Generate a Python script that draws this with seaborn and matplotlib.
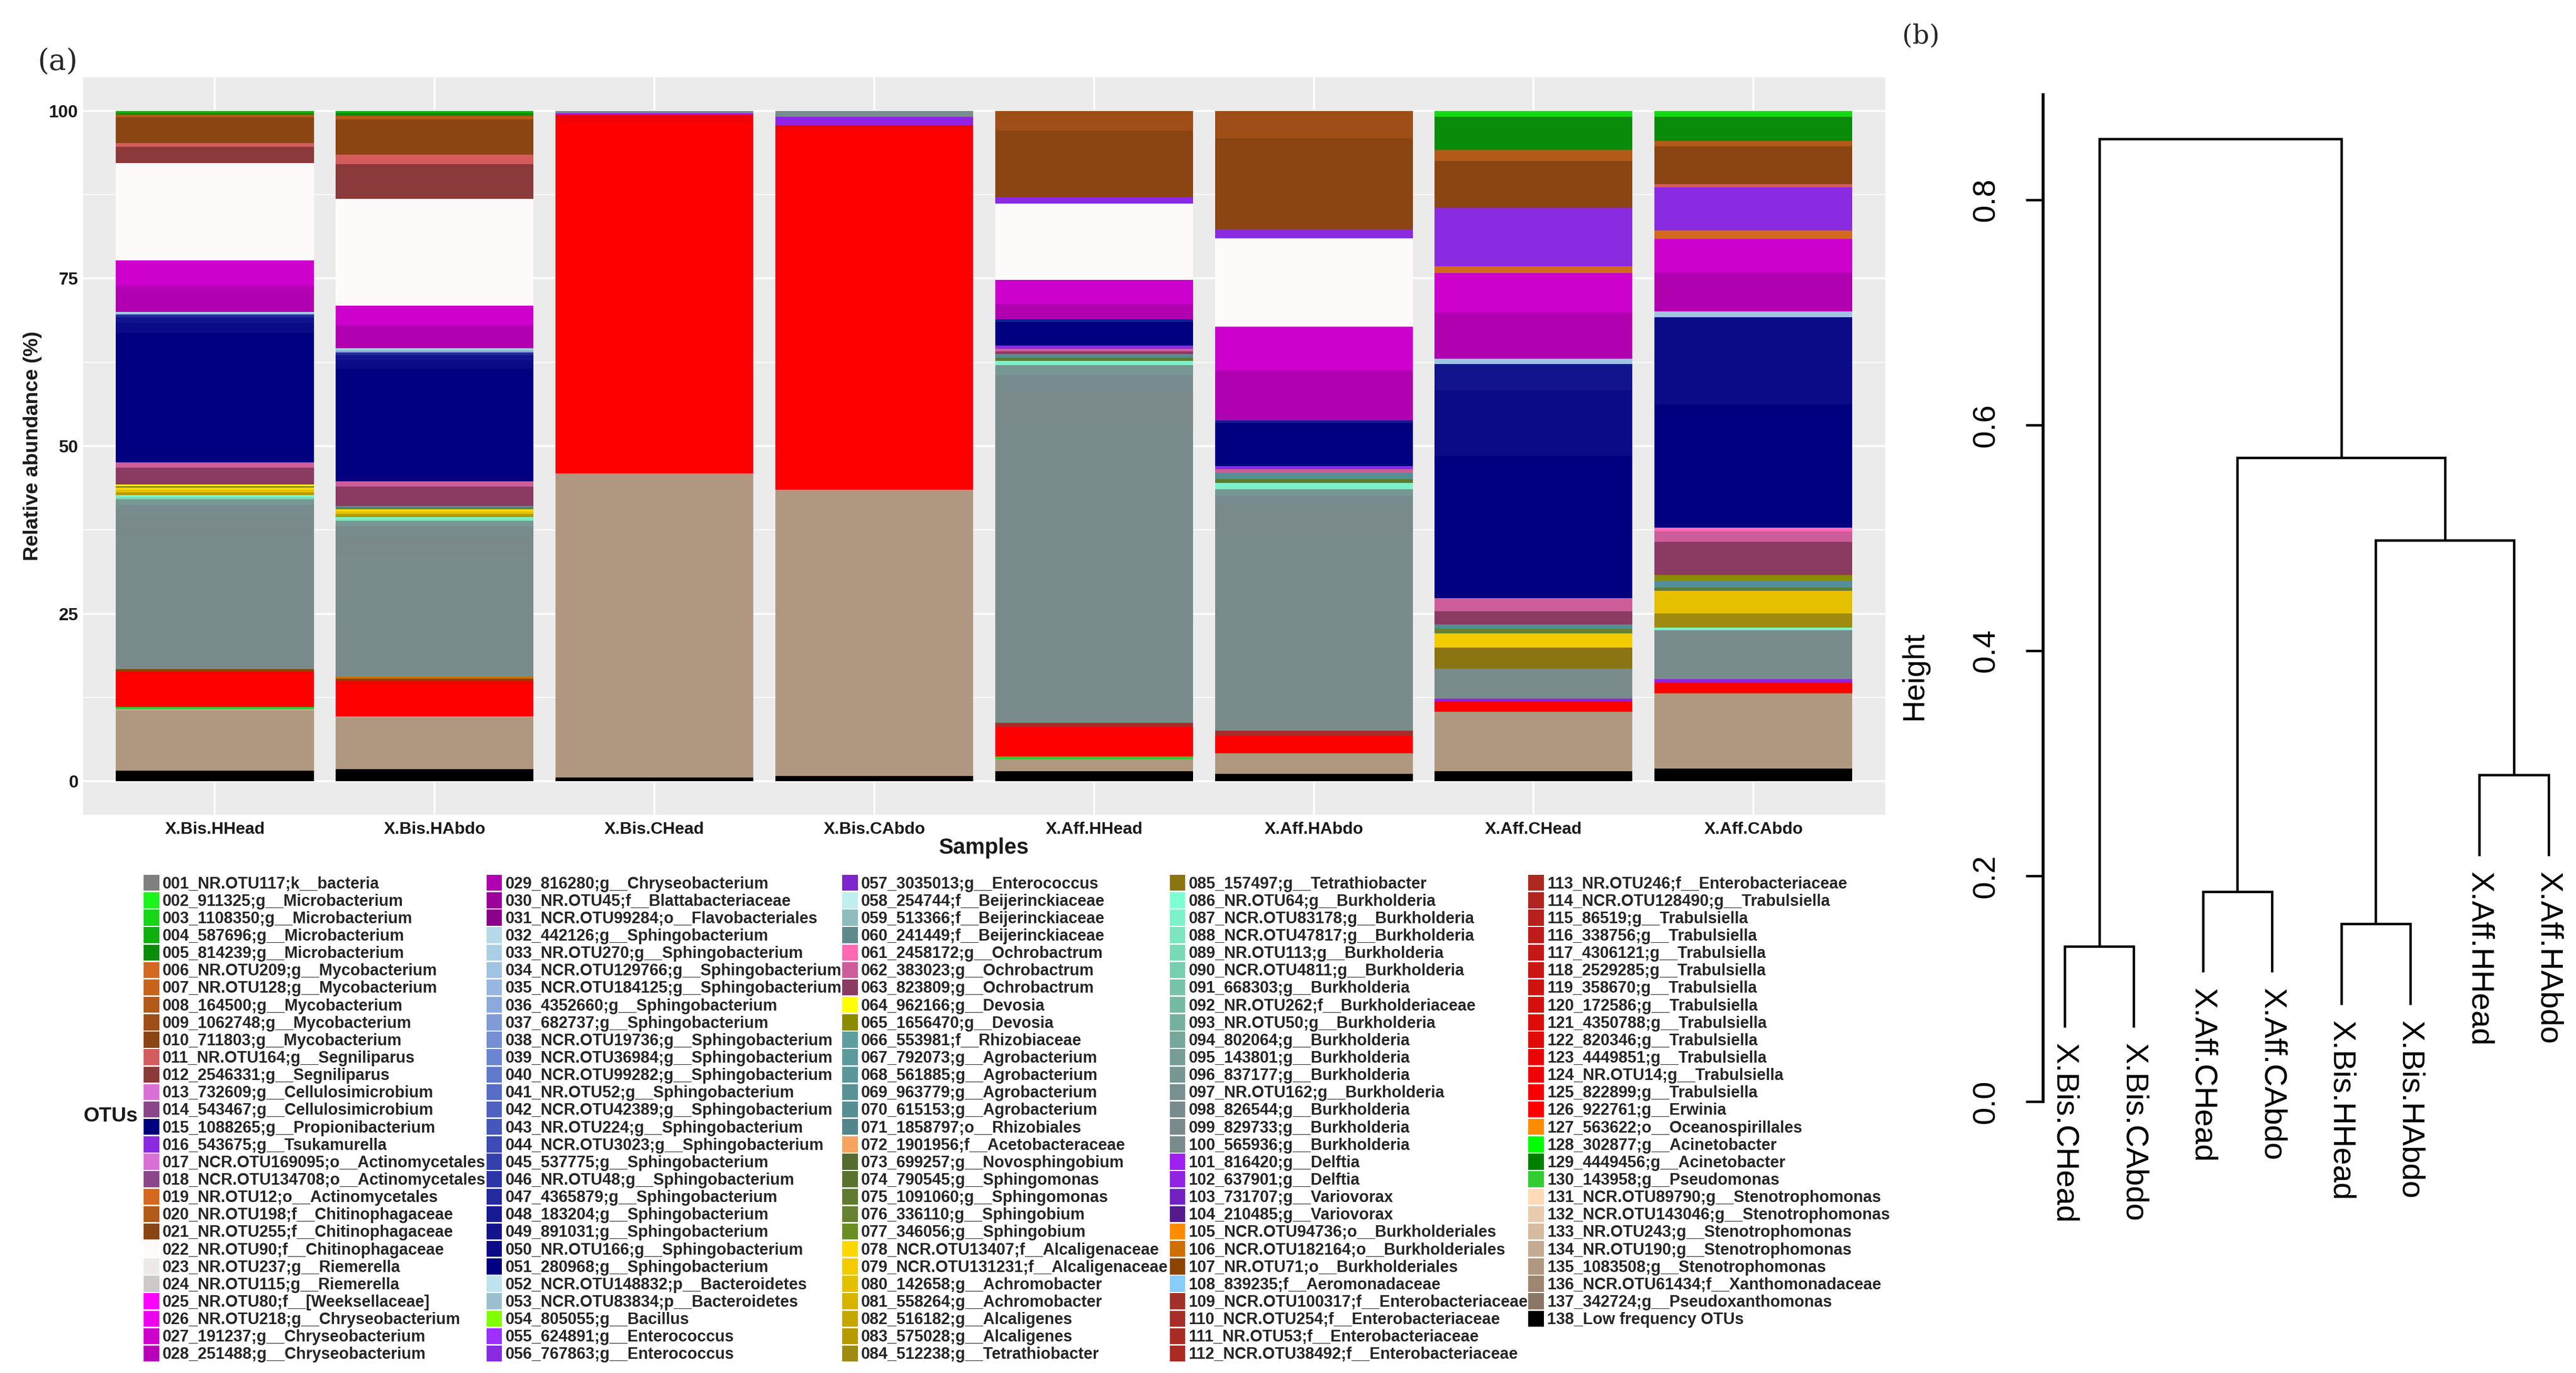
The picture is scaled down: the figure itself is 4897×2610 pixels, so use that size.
import numpy as np
import pandas as pd
import matplotlib
matplotlib.use("Agg")
import matplotlib.pyplot as plt
from matplotlib.patches import Patch
import seaborn as sns

# ---------------- data ----------------
samples = ['X.Bis.HHead', 'X.Bis.HAbdo', 'X.Bis.CHead', 'X.Bis.CAbdo',
           'X.Aff.HHead', 'X.Aff.HAbdo', 'X.Aff.CHead', 'X.Aff.CAbdo']

otu_labels = [
    '001_NR.OTU117;k__bacteria', '002_911325;g__Microbacterium', '003_1108350;g__Microbacterium',
    '004_587696;g__Microbacterium', '005_814239;g__Microbacterium', '006_NR.OTU209;g__Mycobacterium',
    '007_NR.OTU128;g__Mycobacterium', '008_164500;g__Mycobacterium', '009_1062748;g__Mycobacterium',
    '010_711803;g__Mycobacterium', '011_NR.OTU164;g__Segniliparus', '012_2546331;g__Segniliparus',
    '013_732609;g__Cellulosimicrobium', '014_543467;g__Cellulosimicrobium', '015_1088265;g__Propionibacterium',
    '016_543675;g__Tsukamurella', '017_NCR.OTU169095;o__Actinomycetales', '018_NCR.OTU134708;o__Actinomycetales',
    '019_NR.OTU12;o__Actinomycetales', '020_NR.OTU198;f__Chitinophagaceae', '021_NR.OTU255;f__Chitinophagaceae',
    '022_NR.OTU90;f__Chitinophagaceae', '023_NR.OTU237;g__Riemerella', '024_NR.OTU115;g__Riemerella',
    '025_NR.OTU80;f__[Weeksellaceae]', '026_NR.OTU218;g__Chryseobacterium', '027_191237;g__Chryseobacterium',
    '028_251488;g__Chryseobacterium',
    '029_816280;g__Chryseobacterium', '030_NR.OTU45;f__Blattabacteriaceae', '031_NCR.OTU99284;o__Flavobacteriales',
    '032_442126;g__Sphingobacterium', '033_NR.OTU270;g__Sphingobacterium', '034_NCR.OTU129766;g__Sphingobacterium',
    '035_NCR.OTU184125;g__Sphingobacterium', '036_4352660;g__Sphingobacterium', '037_682737;g__Sphingobacterium',
    '038_NCR.OTU19736;g__Sphingobacterium', '039_NCR.OTU36984;g__Sphingobacterium', '040_NCR.OTU99282;g__Sphingobacterium',
    '041_NR.OTU52;g__Sphingobacterium', '042_NCR.OTU42389;g__Sphingobacterium', '043_NR.OTU224;g__Sphingobacterium',
    '044_NCR.OTU3023;g__Sphingobacterium', '045_537775;g__Sphingobacterium', '046_NR.OTU48;g__Sphingobacterium',
    '047_4365879;g__Sphingobacterium', '048_183204;g__Sphingobacterium', '049_891031;g__Sphingobacterium',
    '050_NR.OTU166;g__Sphingobacterium', '051_280968;g__Sphingobacterium', '052_NCR.OTU148832;p__Bacteroidetes',
    '053_NCR.OTU83834;p__Bacteroidetes', '054_805055;g__Bacillus', '055_624891;g__Enterococcus',
    '056_767863;g__Enterococcus',
    '057_3035013;g__Enterococcus', '058_254744;f__Beijerinckiaceae', '059_513366;f__Beijerinckiaceae',
    '060_241449;f__Beijerinckiaceae', '061_2458172;g__Ochrobactrum', '062_383023;g__Ochrobactrum',
    '063_823809;g__Ochrobactrum', '064_962166;g__Devosia', '065_1656470;g__Devosia',
    '066_553981;f__Rhizobiaceae', '067_792073;g__Agrobacterium', '068_561885;g__Agrobacterium',
    '069_963779;g__Agrobacterium', '070_615153;g__Agrobacterium', '071_1858797;o__Rhizobiales',
    '072_1901956;f__Acetobacteraceae', '073_699257;g__Novosphingobium', '074_790545;g__Sphingomonas',
    '075_1091060;g__Sphingomonas', '076_336110;g__Sphingobium', '077_346056;g__Sphingobium',
    '078_NCR.OTU13407;f__Alcaligenaceae', '079_NCR.OTU131231;f__Alcaligenaceae', '080_142658;g__Achromobacter',
    '081_558264;g__Achromobacter', '082_516182;g__Alcaligenes', '083_575028;g__Alcaligenes',
    '084_512238;g__Tetrathiobacter',
    '085_157497;g__Tetrathiobacter', '086_NR.OTU64;g__Burkholderia', '087_NCR.OTU83178;g__Burkholderia',
    '088_NCR.OTU47817;g__Burkholderia', '089_NR.OTU113;g__Burkholderia', '090_NCR.OTU4811;g__Burkholderia',
    '091_668303;g__Burkholderia', '092_NR.OTU262;f__Burkholderiaceae', '093_NR.OTU50;g__Burkholderia',
    '094_802064;g__Burkholderia', '095_143801;g__Burkholderia', '096_837177;g__Burkholderia',
    '097_NR.OTU162;g__Burkholderia', '098_826544;g__Burkholderia', '099_829733;g__Burkholderia',
    '100_565936;g__Burkholderia', '101_816420;g__Delftia', '102_637901;g__Delftia',
    '103_731707;g__Variovorax', '104_210485;g__Variovorax', '105_NCR.OTU94736;o__Burkholderiales',
    '106_NCR.OTU182164;o__Burkholderiales', '107_NR.OTU71;o__Burkholderiales', '108_839235;f__Aeromonadaceae',
    '109_NCR.OTU100317;f__Enterobacteriaceae', '110_NCR.OTU254;f__Enterobacteriaceae', '111_NR.OTU53;f__Enterobacteriaceae',
    '112_NCR.OTU38492;f__Enterobacteriaceae',
    '113_NR.OTU246;f__Enterobacteriaceae', '114_NCR.OTU128490;g__Trabulsiella', '115_86519;g__Trabulsiella',
    '116_338756;g__Trabulsiella', '117_4306121;g__Trabulsiella', '118_2529285;g__Trabulsiella',
    '119_358670;g__Trabulsiella', '120_172586;g__Trabulsiella', '121_4350788;g__Trabulsiella',
    '122_820346;g__Trabulsiella', '123_4449851;g__Trabulsiella', '124_NR.OTU14;g__Trabulsiella',
    '125_822899;g__Trabulsiella', '126_922761;g__Erwinia', '127_563622;o__Oceanospirillales',
    '128_302877;g__Acinetobacter', '129_4449456;g__Acinetobacter', '130_143958;g__Pseudomonas',
    '131_NCR.OTU89790;g__Stenotrophomonas', '132_NCR.OTU143046;g__Stenotrophomonas', '133_NR.OTU243;g__Stenotrophomonas',
    '134_NR.OTU190;g__Stenotrophomonas', '135_1083508;g__Stenotrophomonas', '136_NCR.OTU61434;f__Xanthomonadaceae',
    '137_342724;g__Pseudoxanthomonas', '138_Low frequency OTUs',
]

otu_colors = [
    '#7F7F7F',
    '#1CF51C', '#16D616', '#10AF10', '#0A8B0A',
    '#D2691E', '#C8631C', '#B45A19', '#9E4E16', '#8B4513',
    '#D55C5C', '#8B3A3A',
    '#DA70D6', '#8B4789',
    '#000080', '#8A2BE2',
    '#DA70D6', '#8B4789',
    '#D2691E', '#B45A19', '#8B4513',
    '#FFFAFA', '#EEE9E9', '#CDC9C9',
    '#FF00FF', '#EE00EE', '#CD00CD', '#B900B9', '#B000B0', '#9C009C', '#8B008B',
    '#B4D9E8', '#A9CFE5', '#9FC3E3', '#96B8E0', '#8BAADB', '#7F9CD6', '#7490D2', '#6A86CF', '#607ACB', '#576EC6',
    '#4E62C1', '#4557BB', '#3C4BB5', '#3340AE', '#2B35A6', '#232A9E', '#171B92', '#11148C', '#0B0B88', '#000080',
    '#BFE3EC', '#9AC0CD',
    '#7FFF00', '#9B30FF', '#8A2BE2', '#7D26CD',
    '#BFEFEF', '#8FBCBC', '#5F8A8B',
    '#FF69B4', '#CD5C9A', '#8B3A62',
    '#FFFF00', '#8B8B00',
    '#5F9EA0', '#5D9A9D', '#5A969A', '#589297', '#558E93', '#53868B',
    '#F4A460',
    '#556B2F', '#5A7230', '#607A31', '#668232', '#6B8E23',
    '#FFD700', '#F2CB00', '#E5C000', '#D6B400', '#C6A700', '#B69A00', '#A08A10', '#8B7512',
    '#7FFFD4', '#7DF2CA', '#7BE6C0', '#79DAB8', '#78CFB0', '#77C4A9', '#76BAA3', '#76B09E', '#76A79A',
    '#769E96', '#779792', '#78918F', '#798C8D', '#7A8A8B', '#7A8B8B',
    '#A020F0', '#9124E0', '#7222C0', '#551A8B',
    '#FF8C00', '#CD7000', '#8B4500',
    '#87CEFA',
    '#A33028', '#A52E28', '#A82C26', '#AB2A24', '#AE2822', '#B22420', '#B8201D', '#BE1C1A', '#C41817',
    '#CA1514', '#D01211', '#D60F0E', '#DC0C0B', '#E20909', '#E80606', '#EE0404', '#F50202', '#FF0000',
    '#FF8C00',
    '#00FF00', '#008000', '#32CD32',
    '#FFDAB9', '#EACBAE', '#D6BBA0', '#C4AA92', '#B09880', '#9E8671', '#8B7765',
    '#000000',
]

# abundance per sample: OTU number -> relative abundance (%)
bis_hhead = {4: 0.3, 5: 0.3, 8: 0.4, 10: 3.8, 11: 0.6, 12: 2.4, 22: 14.6, 27: 3.7, 28: 0.5, 29: 3.5,
             33: 0.2, 36: 0.2, 47: 0.4, 49: 0.8, 50: 1.5, 51: 19.4, 62: 0.8, 63: 2.5, 64: 0.2, 65: 0.3,
             78: 0.3, 80: 0.4, 83: 0.4, 87: 0.3, 89: 0.3, 96: 0.9, 98: 1.5, 99: 3.0, 100: 20.0, 107: 0.4,
             125: 0.5, 126: 4.8, 130: 0.3, 134: 0.2, 135: 9.0, 138: 1.6}
bis_habdo = {4: 0.35, 5: 0.35, 8: 0.6, 10: 5.2, 11: 1.4, 12: 5.2, 22: 15.9, 27: 3.0, 29: 3.4, 33: 0.3,
             36: 0.3, 47: 0.4, 49: 0.8, 50: 1.2, 51: 16.8, 62: 0.75, 63: 2.9, 70: 0.25, 75: 0.25, 78: 0.35,
             80: 0.4, 83: 0.4, 87: 0.3, 88: 0.3, 96: 0.8, 98: 1.2, 99: 3.0, 100: 18.2, 106: 0.3, 107: 0.3,
             124: 0.5, 126: 4.85, 134: 0.15, 135: 7.7, 138: 1.8}
bis_chead = {100: 0.3, 101: 0.3, 124: 1.0, 126: 52.4, 135: 45.3, 138: 0.6}
bis_cabdo = {100: 0.9, 102: 1.25, 124: 0.7, 126: 53.6, 135: 42.6, 138: 0.8}
aff_hhead = {9: 2.9, 10: 10.0, 16: 0.9, 22: 11.4, 27: 3.6, 29: 2.3, 48: 0.4, 51: 3.5, 56: 0.5, 62: 0.4,
             63: 0.4, 70: 0.5, 75: 0.5, 87: 0.6, 96: 1.5, 98: 2.5, 99: 5.4, 100: 44.0, 110: 0.6, 126: 4.4,
             130: 0.4, 135: 1.8, 138: 1.5}
aff_habdo = {9: 4.1, 10: 13.6, 16: 1.3, 22: 13.2, 27: 6.5, 29: 7.5, 48: 0.4, 51: 6.4, 56: 0.5, 62: 0.5,
             70: 1.0, 75: 0.5, 87: 1.0, 96: 1.0, 98: 1.5, 99: 4.0, 100: 29.5, 110: 0.8, 126: 2.55, 135: 3.1,
             138: 1.1}
aff_chead = {3: 0.9, 5: 4.9, 8: 1.7, 10: 7.0, 16: 8.7, 19: 1.0, 27: 5.9, 29: 6.9, 34: 0.8, 49: 3.9,
             50: 9.7, 51: 21.3, 62: 1.95, 63: 1.95, 70: 0.7, 76: 0.7, 79: 2.1, 85: 3.1, 100: 4.5, 102: 0.4,
             126: 1.55, 135: 8.9, 138: 1.5}
aff_cabdo = {3: 0.9, 5: 3.6, 8: 0.8, 10: 5.6, 11: 0.5, 16: 6.4, 19: 1.2, 27: 5.0, 29: 5.8, 34: 0.9,
             50: 13.0, 51: 18.3, 61: 0.5, 62: 1.6, 63: 4.9, 65: 0.9, 70: 1.0, 75: 0.5, 80: 3.3, 84: 2.1,
             87: 0.4, 100: 7.3, 102: 0.5, 126: 1.6, 135: 11.2, 138: 1.9}
sample_abund = [bis_hhead, bis_habdo, bis_chead, bis_cabdo, aff_hhead, aff_habdo, aff_chead, aff_cabdo]

# hierarchical clustering (R hclust style merge matrix)
dendro_leaves = ['X.Bis.CHead', 'X.Bis.CAbdo', 'X.Aff.CHead', 'X.Aff.CAbdo',
                 'X.Bis.HHead', 'X.Bis.HAbdo', 'X.Aff.HHead', 'X.Aff.HAbdo']
dendro_merge = [(-1, -2), (-5, -6), (-3, -4), (-7, -8), (2, 4), (3, 5), (1, 6)]
dendro_height = [0.1375, 0.1577, 0.1864, 0.2897, 0.498, 0.571, 0.854]
height_ticks = [0.0, 0.2, 0.4, 0.6, 0.8]
abund_ticks = [0, 25, 50, 75, 100]

# ---------------- figure ----------------
W, H = 4897, 2610
sns.set_theme(style="darkgrid", rc={"axes.facecolor": "#EBEBEB", "grid.color": "white"})
plt.rcParams['font.family'] = ['Liberation Sans', 'DejaVu Sans']

fig = plt.figure(figsize=(W / 100, H / 100), dpi=100)
fig.patch.set_facecolor('white')


def fx(px):
    return px / W


def fy(py):
    return 1 - py / H


# ----- panel (a): stacked relative abundance -----
rows = []
for s, ab in zip(samples, sample_abund):
    tot = sum(ab.values())
    for k, v in ab.items():
        rows.append((s, otu_labels[k - 1], v / tot * 100.0))
df = pd.DataFrame(rows, columns=['Sample', 'OTU', 'pct'])
df['Sample'] = pd.Categorical(df['Sample'], categories=samples, ordered=True)

ax = fig.add_axes([fx(157.8), fy(1549), fx(3584 - 157.8), (1549 - 147) / H])
ax.set_facecolor('#EBEBEB')
ax.set_axisbelow(True)
sns.histplot(data=df, x='Sample', hue='OTU', weights='pct', multiple='stack', discrete=True,
             shrink=0.9, hue_order=otu_labels, palette=dict(zip(otu_labels, otu_colors)),
             alpha=1, linewidth=0, edgecolor='none', legend=False, ax=ax)

ax.set_xlim(-0.6, len(samples) - 0.4)
ax.set_ylim(-5, 105)
ax.set_xticks(range(len(samples)))
ax.set_xticklabels(samples)
ax.set_yticks(abund_ticks)
ax.set_yticklabels([str(t) for t in abund_ticks])
ax.set_yticks([12.5, 37.5, 62.5, 87.5], minor=True)
ax.grid(False)
ax.grid(which='major', axis='both', color='white', lw=2.6)
ax.grid(which='minor', axis='y', color='white', lw=1.3)
for sp in ax.spines.values():
    sp.set_visible(False)
ax.tick_params(axis='both', which='major', length=4.5, width=1.6, color='#333333',
               labelcolor='#1a1a1a', direction='out')
ax.tick_params(axis='y', which='major', pad=2, labelsize=24)
ax.tick_params(axis='x', which='major', pad=5, labelsize=23)
ax.tick_params(which='minor', length=0)
for lab in ax.get_xticklabels() + ax.get_yticklabels():
    lab.set_fontweight('bold')
ax.set_xlabel('')
ax.set_ylabel('')

fig.text(fx(1871), fy(1612), 'Samples', ha='center', va='center', fontsize=30, fontweight='bold',
         color='#1a1a1a')
fig.text(fx(62), fy(848), 'Relative abundance (%)', ha='center', va='center', rotation=90,
         fontsize=28, fontweight='bold', color='#1a1a1a')
fig.text(fx(110), fy(118), '(a)', ha='center', va='center', fontsize=40, family='DejaVu Serif')

# legend: 5 columns of 28 entries
handles = [Patch(facecolor=c, edgecolor='none', linewidth=0, label=l) for l, c in zip(otu_labels, otu_colors)]
col_x = [273, 924.5, 1601, 2223.5, 2905]
for ci, x0 in enumerate(col_x):
    hs = handles[ci * 28:(ci + 1) * 28]
    fig.legend(handles=hs, loc='upper left', bbox_to_anchor=(fx(x0), fy(1663)), frameon=False,
               borderpad=0, borderaxespad=0, handlelength=0.98, handleheight=1.152,
               handletextpad=0.2, labelspacing=0.02,
               prop={'family': 'Liberation Sans', 'weight': 'bold', 'size': 22})
fig.text(fx(210), fy(2122), 'OTUs', ha='center', va='center', fontsize=28, fontweight='bold',
         color='#1a1a1a')

# ----- panel (b): dendrogram -----
x_left, x_right = 0.688, 8.3
px_per_unit = 131.4
ax2 = fig.add_axes([fx(3884), fy(2094), (x_right - x_left) * px_per_unit / W, 0.9 * 2143 / H])
ax2.set_facecolor('white')
ax2.grid(False)
ax2.set_xlim(x_left, x_right)
ax2.set_ylim(0, 0.9)

hang = 0.1 * (max(dendro_height) - min(dendro_height))
node_x = {}
leaf_bottom = {}
for m, (a, b) in enumerate(dendro_merge, start=1):
    h = dendro_height[m - 1]
    xs, tops = [], []
    for c in (a, b):
        if c < 0:
            xc = -c
            top = h - hang
            leaf_bottom[-c] = top
        else:
            xc = node_x[c]
            top = dendro_height[c - 1]
        xs.append(xc)
        tops.append(top)
    node_x[m] = (xs[0] + xs[1]) / 2
    ax2.plot([xs[0], xs[0], xs[1], xs[1]], [tops[0], h, h, tops[1]], color='black', lw=3.3,
             solid_joinstyle='miter', solid_capstyle='butt')

for i, name in enumerate(dendro_leaves, start=1):
    ax2.text(i, leaf_bottom[i] - 0.014, name, rotation=270, ha='center', va='top', fontsize=43,
             color='black', clip_on=False)

for sp in ['top', 'right', 'bottom']:
    ax2.spines[sp].set_visible(False)
ax2.spines['left'].set_visible(True)
ax2.spines['left'].set_color('black')
ax2.spines['left'].set_linewidth(4.0)
ax2.spines['left'].set_bounds(0, 0.893)
ax2.set_xticks([])
ax2.set_yticks(height_ticks)
ax2.set_yticklabels(['%.1f' % t for t in height_ticks], rotation=90, va='center')
ax2.tick_params(axis='y', length=24, width=3.3, color='black', labelsize=43, pad=34,
                labelcolor='black', direction='out', left=True)
fig.text(fx(3639), fy(1285), 'Height', ha='center', va='center', rotation=90, fontsize=42, color='black')
fig.text(fx(3652), fy(69), '(b)', ha='center', va='center', fontsize=36, family='DejaVu Serif')

fig.savefig('out.png', dpi=100, facecolor='white')
